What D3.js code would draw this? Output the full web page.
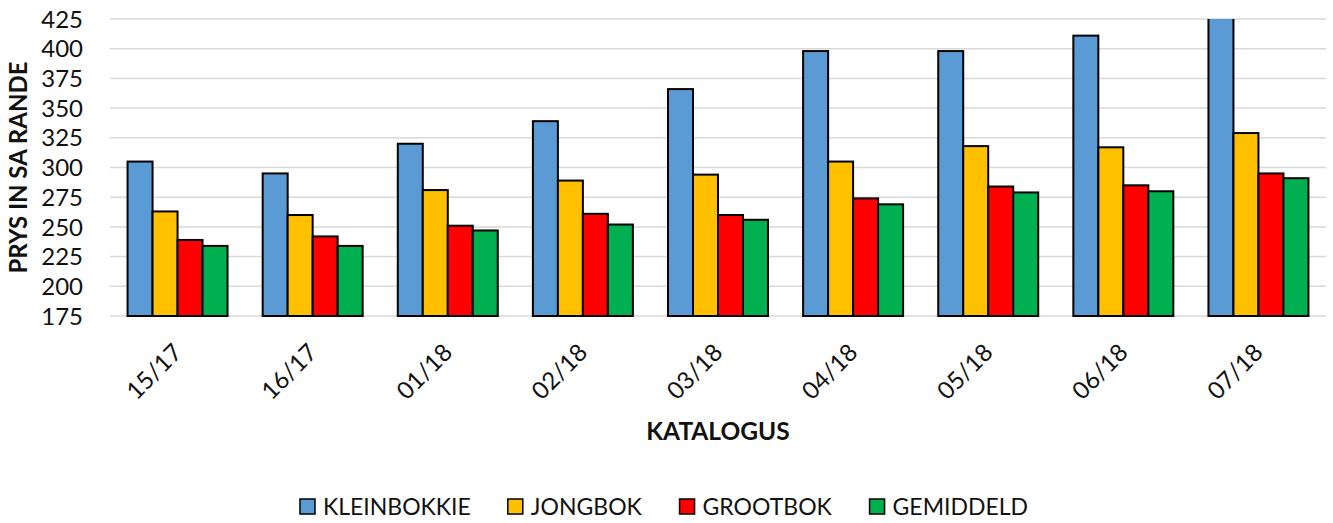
<!DOCTYPE html>
<html>
<head>
<meta charset="utf-8">
<script src="https://cdn.jsdelivr.net/npm/d3@7"></script>
<style>
  body { margin: 0; background: #fff; }
  text { font-family: Lato, "Open Sans", sans-serif; }
</style>
</head>
<body>
<svg width="1333" height="523"></svg>
<script>
// data
var categories = ["15/17", "16/17", "01/18", "02/18", "03/18", "04/18", "05/18", "06/18", "07/18"];
var seriesNames = ["KLEINBOKKIE", "JONGBOK", "GROOTBOK", "GEMIDDELD"];
var kleinbokkie = [305, 295, 320, 339, 366, 398, 398, 411, 432];
var jongbok = [263, 260, 281, 289, 294, 305, 318, 317, 329];
var grootbok = [239, 242, 251, 261, 260, 274, 284, 285, 295];
var gemiddeld = [234, 234, 247, 252, 256, 269, 279, 280, 291];
var yTicks = [175, 200, 225, 250, 275, 300, 325, 350, 375, 400, 425];
var colors = ["#5B9BD5", "#FFC000", "#FF0000", "#00B050"];

var series = [kleinbokkie, jongbok, grootbok, gemiddeld];

var svg = d3.select("svg");
var plotLeft = 110, plotRight = 1326, plotTop = 19, plotBottom = 316;

var x = d3.scaleBand()
  .domain(categories)
  .range([plotLeft, plotRight])
  .paddingInner(0.26)
  .paddingOuter(0.13);

var x1 = d3.scaleBand()
  .domain(seriesNames)
  .range([0, x.bandwidth()]);

var y = d3.scaleLinear()
  .domain([175, 425])
  .range([plotBottom, plotTop]);

// gridlines
svg.append("g")
  .selectAll("line")
  .data(yTicks)
  .enter()
  .append("line")
    .attr("x1", plotLeft)
    .attr("x2", plotRight)
    .attr("y1", function(d) { return y(d); })
    .attr("y2", function(d) { return y(d); })
    .style("stroke", "#d9d9d9")
    .style("stroke-width", 1.5);

// y tick labels
svg.append("g")
  .selectAll("text")
  .data(yTicks)
  .enter()
  .append("text")
    .attr("x", 83)
    .attr("y", function(d) { return y(d); })
    .attr("dy", "0.36em")
    .attr("text-anchor", "end")
    .style("font-size", "24px")
    .style("fill", "#111")
    .text(function(d) { return d; });

// clip at the top of the plot
svg.append("clipPath")
  .attr("id", "plotclip")
  .append("rect")
    .attr("x", plotLeft - 5)
    .attr("y", plotTop)
    .attr("width", plotRight - plotLeft + 10)
    .attr("height", plotBottom - plotTop + 5);

var groups = svg.append("g")
  .attr("clip-path", "url(#plotclip)")
  .selectAll("g")
  .data(categories)
  .enter()
  .append("g")
    .attr("transform", function(d) { return "translate(" + x(d) + ",0)"; });

groups.selectAll("rect")
  .data(function(d, i) {
    return seriesNames.map(function(s, j) { return { name: s, value: series[j][i], idx: j }; });
  })
  .enter()
  .append("rect")
    .attr("x", function(d) { return x1(d.name); })
    .attr("y", function(d) { return y(d.value); })
    .attr("width", x1.bandwidth())
    .attr("height", function(d) { return plotBottom - y(d.value); })
    .style("fill", function(d) { return colors[d.idx]; })
    .style("stroke", "#000")
    .style("stroke-width", 2);

// x tick labels, rotated
svg.append("g")
  .selectAll("text")
  .data(categories)
  .enter()
  .append("text")
    .attr("transform", function(d) {
      return "translate(" + (x(d) + x.bandwidth() / 2 + 6) + "," + 354 + ") rotate(-45)";
    })
    .attr("text-anchor", "end")
    .style("font-size", "24px")
    .style("fill", "#111")
    .text(function(d) { return d; });

// axis titles
svg.append("text")
  .attr("x", (plotLeft + plotRight) / 2)
  .attr("y", 440)
  .attr("text-anchor", "middle")
  .style("font-size", "24.5px")
  .style("font-weight", "bold")
  .style("fill", "#111")
  .text("KATALOGUS");

svg.append("text")
  .attr("transform", "translate(27," + ((plotTop + plotBottom) / 2) + ") rotate(-90)")
  .attr("text-anchor", "middle")
  .style("font-size", "24px")
  .style("font-weight", "bold")
  .style("fill", "#111")
  .text("PRYS IN SA RANDE");

// legend
var legend = svg.append("g");
var items = legend.selectAll("g")
  .data(seriesNames)
  .enter()
  .append("g");

items.append("rect")
  .attr("x", 0)
  .attr("y", -8)
  .attr("width", 15)
  .attr("height", 15)
  .style("fill", function(d, i) { return colors[i]; })
  .style("stroke", "#000")
  .style("stroke-width", 1.5);

items.append("text")
  .attr("x", 23)
  .attr("y", 0)
  .attr("dy", "0.36em")
  .style("font-size", "23px")
  .style("fill", "#111")
  .text(function(d) { return d; });

var widths = [];
items.each(function() { widths.push(this.getBBox().width); });
var gap = 37;
var total = d3.sum(widths) + gap * (widths.length - 1);
var pos = 664 - total / 2;
items.attr("transform", function(d, i) {
  var p = pos;
  pos += widths[i] + gap;
  return "translate(" + p + ",507)";
});
</script>
</body>
</html>
